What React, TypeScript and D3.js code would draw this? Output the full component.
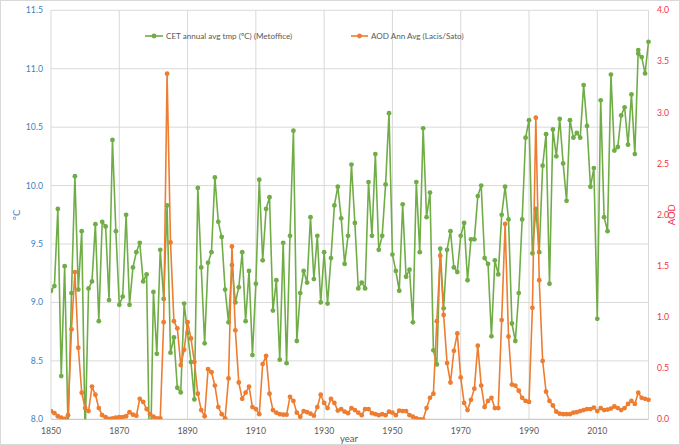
import React from "react";
import * as d3 from "d3";

// Central England Temperature, annual mean (°C), one value per year from 1850
const cetStartYear = 1850;
const cetAnnual = [
  9.10, 9.14, 9.80, 8.37, 9.31, 7.90, 9.08, 10.08, 9.11, 9.61,
  7.85, 9.12, 9.18, 9.67, 8.84, 9.69, 9.65, 9.02, 10.39, 9.61,
  8.98, 9.05, 9.75, 8.98, 9.30, 9.43, 9.51, 9.18, 9.24, 7.42,
  9.09, 8.56, 9.45, 9.03, 9.83, 8.57, 8.70, 8.27, 8.23, 8.99,
  8.74, 8.49, 8.17, 9.98, 9.30, 8.65, 9.34, 9.43, 10.07, 9.69,
  9.56, 9.11, 8.83, 9.32, 9.00, 9.13, 9.43, 8.84, 9.27, 8.55,
  9.16, 10.05, 9.36, 9.80, 9.90, 8.93, 9.19, 8.51, 9.51, 8.48,
  9.57, 10.47, 8.67, 9.08, 9.27, 9.17, 9.73, 9.20, 9.57, 9.00,
  9.43, 8.99, 9.38, 9.83, 9.99, 9.72, 9.33, 9.57, 10.18, 9.68,
  9.12, 9.17, 9.12, 10.03, 9.57, 10.27, 9.45, 9.57, 10.01, 10.62,
  9.41, 9.27, 9.10, 9.84, 9.22, 9.28, 8.83, 10.03, 9.43, 10.49,
  9.73, 9.94, 8.59, 8.47, 9.46, 8.95, 9.45, 9.61, 9.30, 9.26,
  9.57, 9.68, 9.19, 9.54, 9.54, 9.91, 10.00, 9.38, 9.33, 8.71,
  9.36, 9.24, 9.75, 9.99, 9.71, 8.82, 8.67, 9.08, 9.71, 10.41,
  10.56, 9.42, 9.80, 9.43, 10.17, 10.44, 9.16, 10.48, 10.25, 10.57,
  10.19, 9.87, 10.56, 10.41, 10.45, 10.41, 10.86, 10.51, 9.99, 10.15,
  8.86, 10.73, 9.73, 9.61, 10.95, 10.30, 10.33, 10.60, 10.67, 10.35,
  10.78, 10.27,
];
// Most recent rows of the CET sheet (2022 is listed twice)
const cetRecentYears = [2022, 2022, 2023, 2024, 2025];
const cetRecentValues = [11.16, 11.13, 11.10, 10.96, 11.23];

// Stratospheric aerosol optical depth, annual average, one value per year from 1850
const aodStartYear = 1850;
const aodAnnual = [
  0.08, 0.06, 0.03, 0.015, 0.005, 0.04, 0.88, 1.44, 0.70, 0.26,
  0.11, 0.08, 0.32, 0.24, 0.11, 0.04, 0.02, 0.005, 0.01, 0.015,
  0.02, 0.02, 0.03, 0.07, 0.045, 0.035, 0.20, 0.17, 0.10, 0.05,
  0.025, 0.01, 0.01, 0.95, 3.38, 1.73, 0.96, 0.89, 0.53, 0.68,
  0.95, 0.79, 0.56, 0.25, 0.09, 0.03, 0.49, 0.46, 0.33, 0.12,
  0.05, 0.01, 0.40, 1.69, 0.87, 0.36, 0.20, 0.26, 0.32, 0.12,
  0.10, 0.05, 0.54, 0.62, 0.25, 0.09, 0.065, 0.05, 0.045, 0.045,
  0.22, 0.18, 0.065, 0.025, 0.08, 0.07, 0.055, 0.035, 0.12, 0.24,
  0.16, 0.11, 0.20, 0.16, 0.085, 0.10, 0.075, 0.06, 0.11, 0.09,
  0.065, 0.04, 0.10, 0.10, 0.06, 0.05, 0.04, 0.05, 0.04, 0.075,
  0.065, 0.04, 0.085, 0.08, 0.08, 0.04, 0.025, 0.01, 0.0, 0.0,
  0.11, 0.21, 0.25, 0.96, 1.60, 1.02, 0.55, 0.36, 0.67, 0.84,
  0.41, 0.16, 0.09, 0.19, 0.30, 0.72, 0.33, 0.12, 0.18, 0.21,
  0.11, 0.11, 0.97, 1.91, 0.81, 0.34, 0.33, 0.28, 0.21, 0.18,
  0.17, 1.09, 2.95, 1.36, 0.57, 0.27, 0.18, 0.135, 0.075, 0.055,
  0.05, 0.05, 0.05, 0.065, 0.07, 0.08, 0.09, 0.10, 0.10, 0.115,
  0.08, 0.11, 0.09, 0.095, 0.105, 0.125, 0.11, 0.09, 0.11, 0.15,
  0.18, 0.15, 0.26, 0.21, 0.20, 0.19,
];

const xTicks = [1850, 1870, 1890, 1910, 1930, 1950, 1970, 1990, 2010];
const tempTicks = [8.0, 8.5, 9.0, 9.5, 10.0, 10.5, 11.0, 11.5];
const aodTicks = [0.0, 0.5, 1.0, 1.5, 2.0, 2.5, 3.0, 3.5, 4.0];

const cetLabel = "CET annual avg tmp (ºC) (Metoffice)";
const aodLabel = "AOD Ann Avg (Lacis/Sato)";

const WIDTH = 680;
const HEIGHT = 445;
const PLOT = { left: 51, right: 648.5, top: 10.3, bottom: 419.3 };

const GREEN = "#70ad47";
const ORANGE = "#ed7d31";
const GRID = "#d9d9d9";
const TEXT = "#595959";
const BLUE = "#3a7fbf";
const RED = "#f0324b";
const FONT = "Lato, 'Open Sans', sans-serif";

type Pt = { year: number; value: number };

export default function App() {
  const x = d3.scaleLinear().domain([1850, 2025]).range([PLOT.left, PLOT.right]);
  const yT = d3.scaleLinear().domain([8, 11.5]).range([PLOT.bottom, PLOT.top]);
  const yA = d3.scaleLinear().domain([0, 4]).range([PLOT.bottom, PLOT.top]);

  const cetPts: Pt[] = [
    ...cetAnnual.map((v, i) => ({ year: cetStartYear + i, value: v })),
    ...cetRecentYears.map((yr, i) => ({ year: yr, value: cetRecentValues[i] })),
  ];
  const aodPts: Pt[] = aodAnnual.map((v, i) => ({ year: aodStartYear + i, value: v }));

  const cetLine = d3
    .line<Pt>()
    .x((d) => x(d.year))
    .y((d) => yT(d.value));
  const aodLine = d3
    .line<Pt>()
    .x((d) => x(d.year))
    .y((d) => yA(d.value));

  const legendY = 36;

  return (
    <svg
      width={WIDTH}
      height={HEIGHT}
      style={{ position: "absolute", left: 0, top: 0, display: "block", background: "#fff" }}
      fontFamily={FONT}
    >
      <defs>
        <clipPath id="plot-clip">
          <rect x={PLOT.left} y={PLOT.top - 4} width={PLOT.right - PLOT.left + 4} height={PLOT.bottom - PLOT.top + 4} />
        </clipPath>
      </defs>
      <rect x={0.5} y={0.5} width={WIDTH - 1} height={HEIGHT - 1} fill="#fff" stroke={GRID} />

      {/* horizontal gridlines */}
      {tempTicks.map((t) => (
        <line
          key={"h" + t}
          x1={PLOT.left}
          x2={PLOT.right}
          y1={yT(t)}
          y2={yT(t)}
          stroke={t === 8 ? "#bfbfbf" : GRID}
          strokeWidth={1}
        />
      ))}
      {/* vertical gridlines */}
      {[...xTicks, 2025].map((t) => (
        <line key={"v" + t} x1={x(t)} x2={x(t)} y1={PLOT.top} y2={PLOT.bottom} stroke={GRID} strokeWidth={1} />
      ))}

      {/* left axis */}
      {tempTicks.map((t) => (
        <text key={"lt" + t} x={43} y={yT(t)} dy="0.35em" textAnchor="end" fontSize={8.7} fill={BLUE}>
          {t.toFixed(1)}
        </text>
      ))}
      {/* right axis */}
      {aodTicks.map((t) => (
        <text key={"rt" + t} x={657} y={yA(t)} dy="0.35em" textAnchor="start" fontSize={8.7} fill={RED}>
          {t.toFixed(1)}
        </text>
      ))}
      {/* bottom axis */}
      {xTicks.map((t) => (
        <text key={"bt" + t} x={x(t)} y={434} textAnchor="middle" fontSize={8.7} fill={TEXT}>
          {t}
        </text>
      ))}

      <text x={349} y={442} textAnchor="middle" fontSize={9.5} fill={TEXT}>
        year
      </text>
      <text transform={`translate(20, ${(PLOT.top + PLOT.bottom) / 2}) rotate(-90)`} textAnchor="middle" fontSize={9.5} fill={BLUE}>
        ºC
      </text>
      <text transform={`translate(675, ${(PLOT.top + PLOT.bottom) / 2}) rotate(-90)`} textAnchor="middle" fontSize={9.5} fill={RED}>
        AOD
      </text>

      {/* series */}
      <g clipPath="url(#plot-clip)">
        <path d={cetLine(cetPts) ?? ""} fill="none" stroke={GREEN} strokeWidth={1.6} strokeLinejoin="round" />
        {cetPts.map((d, i) => (
          <circle key={"c" + i} cx={x(d.year)} cy={yT(d.value)} r={2.4} fill={GREEN} />
        ))}
        <path d={aodLine(aodPts) ?? ""} fill="none" stroke={ORANGE} strokeWidth={1.6} strokeLinejoin="round" />
        {aodPts.map((d, i) => (
          <circle key={"a" + i} cx={x(d.year)} cy={yA(d.value)} r={2.4} fill={ORANGE} />
        ))}
      </g>

      {/* legend */}
      <line x1={145} x2={163} y1={legendY} y2={legendY} stroke={GREEN} strokeWidth={1.6} />
      <circle cx={154} cy={legendY} r={2.4} fill={GREEN} />
      <text x={166} y={legendY} dy="0.35em" fontSize={8.1} fill={TEXT}>
        {cetLabel}
      </text>
      <line x1={351} x2={368} y1={legendY} y2={legendY} stroke={ORANGE} strokeWidth={1.6} />
      <circle cx={359.5} cy={legendY} r={2.4} fill={ORANGE} />
      <text x={371} y={legendY} dy="0.35em" fontSize={8.1} fill={TEXT}>
        {aodLabel}
      </text>
    </svg>
  );
}
